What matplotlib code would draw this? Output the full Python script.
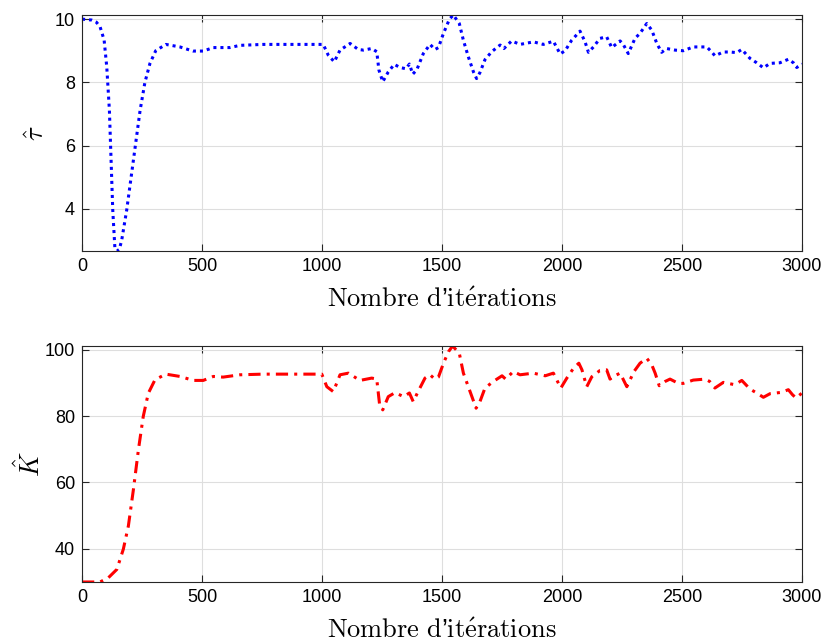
import numpy as np
import matplotlib
matplotlib.use("Agg")
import matplotlib.pyplot as plt

plt.rcParams['font.family'] = ['Liberation Sans', 'DejaVu Sans']
plt.rcParams['mathtext.fontset'] = 'cm'

# estimated tau
tau_it = [0, 40, 60, 75, 92, 103, 114, 121, 128, 137, 145, 155, 165, 186, 214, 242, 262, 283, 307, 349,
          408, 462, 505, 547, 616, 658, 755, 1005, 1026, 1051, 1075, 1117, 1151, 1172, 1207, 1228, 1237,
          1253, 1276, 1301, 1325, 1350, 1364, 1378, 1395, 1422, 1450, 1471, 1485, 1506, 1531, 1547, 1572,
          1589, 1610, 1631, 1644, 1658, 1679, 1707, 1742, 1758, 1790, 1825, 1881, 1922, 1964, 1992, 2013,
          2040, 2075, 2096, 2110, 2131, 2158, 2186, 2207, 2242, 2255, 2276, 2304, 2325, 2353, 2374, 2395,
          2415, 2436, 2471, 2505, 2547, 2603, 2624, 2637, 2672, 2700, 2728, 2749, 2783, 2811, 2839, 2867,
          2908, 2943, 2964, 2978, 3000]
tau = [10.0, 9.97, 9.9, 9.76, 9.34, 8.49, 7.12, 5.54, 3.96, 2.75, 2.67, 2.72, 3.0, 3.96, 5.54, 7.12, 8.0,
       8.6, 9.0, 9.2, 9.12, 8.99, 8.99, 9.1, 9.1, 9.17, 9.2, 9.2, 8.86, 8.65, 9.02, 9.23, 9.04, 9.02, 9.07,
       8.97, 8.39, 8.02, 8.33, 8.57, 8.47, 8.43, 8.58, 8.26, 8.4, 8.91, 9.2, 9.04, 9.1, 9.55, 10.0, 10.13,
       9.86, 9.33, 8.8, 8.33, 8.12, 8.31, 8.72, 8.97, 9.18, 9.07, 9.31, 9.2, 9.28, 9.2, 9.3, 8.9, 9.0, 9.33,
       9.62, 9.28, 8.95, 9.12, 9.39, 9.44, 9.1, 9.31, 9.2, 8.91, 9.39, 9.55, 9.86, 9.65, 9.23, 8.95, 9.07,
       9.02, 9.0, 9.12, 9.12, 8.96, 8.84, 8.96, 8.96, 8.94, 9.04, 8.76, 8.62, 8.46, 8.6, 8.62, 8.73, 8.62,
       8.47, 8.58]

# estimated K
K_it = [0, 75, 110, 145, 172, 193, 214, 235, 255, 276, 304, 349, 408, 464, 505, 547, 588, 658, 755, 999,
        1020, 1047, 1075, 1110, 1158, 1207, 1228, 1240, 1253, 1276, 1304, 1340, 1364, 1380, 1400, 1429,
        1450, 1470, 1485, 1506, 1527, 1544, 1572, 1589, 1617, 1642, 1658, 1679, 1714, 1750, 1765, 1797,
        1825, 1880, 1930, 1964, 1995, 2020, 2048, 2070, 2083, 2103, 2124, 2158, 2186, 2200, 2220, 2242,
        2270, 2300, 2325, 2353, 2374, 2388, 2405, 2430, 2450, 2485, 2505, 2547, 2596, 2615, 2637, 2672,
        2720, 2749, 2783, 2811, 2839, 2867, 2915, 2943, 2960, 2975, 3000]
K = [29.9, 29.9, 31.2, 33.7, 39.8, 46.8, 57.8, 69.9, 79.9, 86.9, 91.0, 92.7, 92.0, 90.8, 90.8, 92.0, 91.8,
     92.5, 92.7, 92.7, 88.9, 87.4, 92.5, 93.0, 90.8, 91.5, 91.2, 83.4, 81.9, 85.9, 87.1, 85.9, 87.0, 84.4,
     87.4, 91.5, 92.5, 91.2, 91.8, 96.0, 99.5, 101.2, 99.0, 93.0, 87.4, 82.4, 84.4, 88.5, 90.5, 92.2, 91.2,
     93.5, 92.5, 93.0, 92.2, 93.0, 88.5, 91.5, 94.5, 96.0, 94.0, 88.9, 91.9, 93.8, 94.0, 91.2, 92.2, 93.0,
     88.9, 93.5, 96.0, 97.5, 95.5, 93.0, 89.2, 90.5, 91.2, 89.9, 89.9, 90.9, 91.2, 90.5, 88.5, 90.2, 89.5,
     90.8, 88.2, 87.0, 85.7, 86.8, 87.2, 88.0, 86.5, 85.5, 87.0]

xticks = [0, 500, 1000, 1500, 2000, 2500, 3000]
xlabel = r"$\mathrm{Nombre\ d}$’$\mathrm{it\acute{e}rations}$"

fig = plt.figure(figsize=(8.27, 6.43), dpi=100)
ax1 = fig.add_axes([0.0992, 0.6096, 0.8706, 0.3671])
ax2 = fig.add_axes([0.0992, 0.0949, 0.8706, 0.3670])

ax1.plot(tau_it, tau, color='#0000ff', linestyle=(0, (1, 1.3)), linewidth=2.2)
ax2.plot(K_it, K, color='#ff0000', linestyle=(0, (4, 2, 1, 2)), linewidth=2.2)

ax1.set_ylim(min(tau), max(tau))
ax1.set_yticks([4, 6, 8, 10])
ax2.set_ylim(min(K), max(K))
ax2.set_yticks([40, 60, 80, 100])
ax1.set_ylabel(r"$\hat{\tau}$", fontsize=19, labelpad=4)
ax2.set_ylabel(r"$\hat{K}$", fontsize=19, labelpad=0)

for ax in (ax1, ax2):
    ax.set_xlim(0, 3000)
    ax.set_xticks(xticks)
    ax.grid(True, color='#dedede', linewidth=0.8)
    ax.set_axisbelow(True)
    ax.tick_params(direction='in', length=5, width=0.8, labelsize=13, color='#262626',
                   top=True, right=True, pad=5)
    for s in ax.spines.values():
        s.set_color('#262626')
        s.set_linewidth(0.8)
    ax.set_xlabel(xlabel, fontsize=19, labelpad=9)

fig.savefig("out.png", dpi=100)
